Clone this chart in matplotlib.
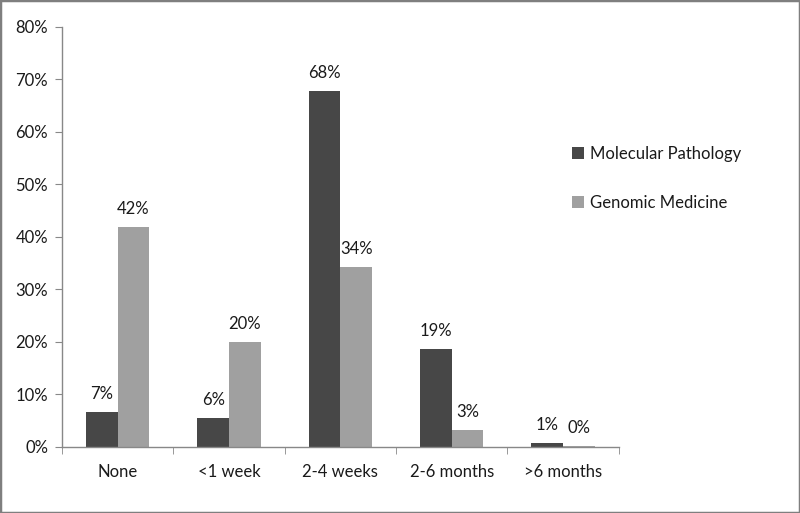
import numpy as np
import matplotlib
matplotlib.use("Agg")
import matplotlib.pyplot as plt
from matplotlib.patches import Rectangle

categories = ["None", "<1 week", "2-4 weeks", "2-6 months", ">6 months"]
molecular = [6.7, 5.5, 67.8, 18.7, 0.8]
genomic = [41.9, 20.0, 34.3, 3.2, 0.2]
series_names = ["Molecular Pathology", "Genomic Medicine"]

plt.rcParams["font.family"] = ["Lato", "DejaVu Sans"]
fs = 12

fig = plt.figure(figsize=(8, 5.13), dpi=100)
ax = fig.add_axes([0.0775, 0.1287, 0.696, 0.8187])

x = np.arange(len(categories))
w = 0.285
dark = "#474747"
light = "#a0a0a0"
b1 = ax.bar(x - w / 2, molecular, w, color=dark, label=series_names[0])
b2 = ax.bar(x + w / 2, genomic, w, color=light, label=series_names[1])

for bars, vals in ((b1, molecular), (b2, genomic)):
    for b, v in zip(bars, vals):
        ax.annotate(f"{v:.0f}%", (b.get_x() + b.get_width() / 2, v),
                    xytext=(0, 7), textcoords="offset points",
                    ha="center", va="bottom", fontsize=fs, color="#1a1a1a")

ax.set_xlim(-0.5, len(categories) - 0.5)
ax.set_ylim(0, 80)
ax.set_yticks(np.arange(0, 81, 10))
ax.set_yticklabels([f"{t}%" for t in range(0, 81, 10)], fontsize=fs, color="#1a1a1a")
ax.set_xticks(x)
ax.set_xticklabels(categories, fontsize=fs, color="#1a1a1a")
ax.set_xticks(np.arange(-0.5, len(categories)), minor=True)
ax.tick_params(axis="x", which="major", length=0, pad=12)
ax.tick_params(axis="x", which="minor", length=5, color="#888888", direction="out")
ax.tick_params(axis="y", length=5, color="#888888", pad=5)

for s in ("top", "right"):
    ax.spines[s].set_visible(False)
for s in ("left", "bottom"):
    ax.spines[s].set_color("#888888")
    ax.spines[s].set_linewidth(1)

leg = fig.legend(handles=[b1, b2], loc="upper left", bbox_to_anchor=(0.696, 0.745),
                 frameon=False, fontsize=fs, handlelength=0.75, handleheight=0.75,
                 handletextpad=0.35, labelspacing=2.0)
for t in leg.get_texts():
    t.set_color("#1a1a1a")

fig.patches.append(Rectangle((0, 0), 1, 1, transform=fig.transFigure,
                             fill=False, edgecolor="#7f7f7f", linewidth=2.5))

fig.savefig("out.png", dpi=100)
